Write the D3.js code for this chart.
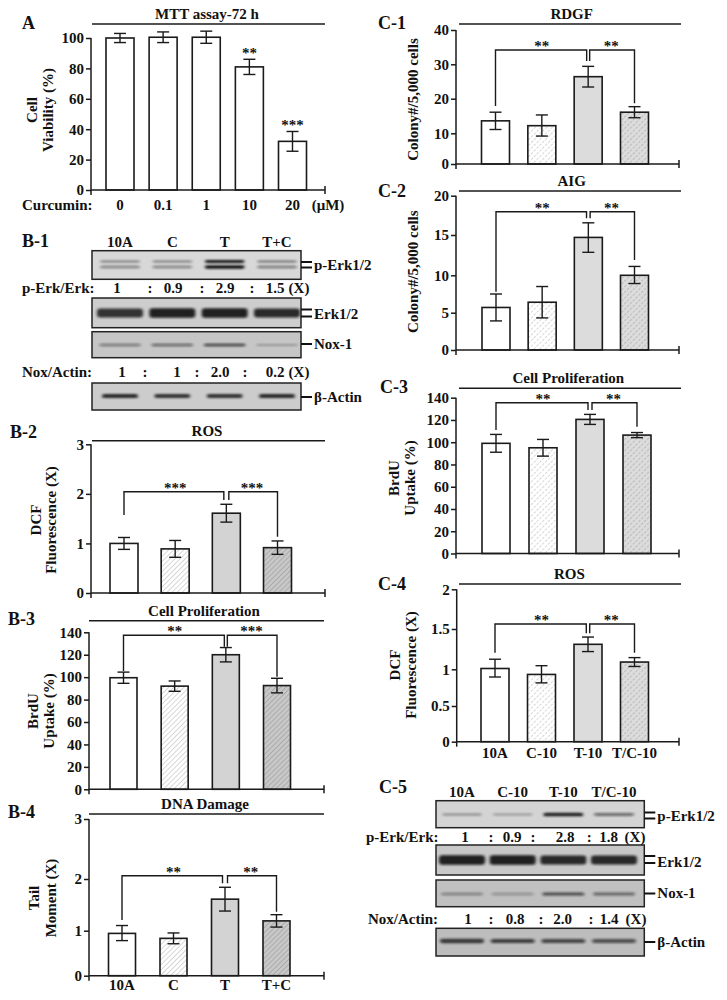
<!DOCTYPE html>
<html><head><meta charset="utf-8">
<script src="https://cdn.jsdelivr.net/npm/d3@7"></script>
<style>
body{margin:0;background:#fff}
svg text{font-family:"Liberation Serif","Times New Roman",serif;font-weight:bold;font-size:15px;fill:#111}
svg text.plabel{font-size:18px}
</style>
</head><body><svg id="fig" width="727" height="1000"></svg>
<script>
// ---------------- data ----------------
const curcuminDoses = ["0", "0.1", "1", "10", "20"];
const mttViability = [100, 100.5, 100.5, 81, 32];
const mttError = [3, 3.5, 4, 5, 6.5];
const mttStars = ["", "", "", "**", "***"];
const mttTicks = [0, 20, 40, 60, 80, 100];

const groupsB = ["10A", "C", "T", "T+C"];
const rosB = [1.0, 0.89, 1.61, 0.915];
const rosBErr = [0.12, 0.17, 0.18, 0.135];
const rosBStars = ["***", "***"];
const brduB = [99.5, 92, 120, 92.5];
const brduBErr = [5, 4.6, 6.4, 6.5];
const brduBStars = ["**", "***"];
const tailB = [0.94, 0.83, 1.61, 1.19];
const tailBErr = [0.16, 0.12, 0.23, 0.12];
const tailBStars = ["**", "**"];

const groupsC = ["10A", "C-10", "T-10", "T/C-10"];
const rdgfC = [13.6, 12.2, 26.4, 16.1];
const rdgfCErr = [2.5, 3.1, 3.0, 1.6];
const aigC = [5.7, 6.4, 14.7, 10.0];
const aigCErr = [1.8, 2.1, 1.85, 1.1];
const brduC = [99, 95, 120.5, 106.4];
const brduCErr = [8, 7.5, 4.5, 2.3];
const rosC = [1.01, 0.93, 1.31, 1.09];
const rosCErr = [0.115, 0.115, 0.09, 0.055];
const starsC = ["**", "**"];

const ticks3 = [0, 1, 2, 3];
const ticks140 = [0, 20, 40, 60, 80, 100, 120, 140];
const ticksRDGF = [0, 10, 20, 30, 40];
const ticksAIG = [0, 5, 10, 15, 20];
const ticksROSC = [0, 0.5, 1, 1.5, 2];

const pErkRatioB = ["1", "0.9", "2.9", "1.5"];
const noxRatioB = ["1", "1", "2.0", "0.2"];
const pErkRatioC = ["1", "0.9", "2.8", "1.8"];
const noxRatioC = ["1", "0.8", "2.0", "1.4"];

// band darkness estimates
const pErkBandB = [0.45, 0.45, 1.0, 0.5];
const erkBandB = [0.85, 0.95, 0.95, 0.9];
const noxBandB = [0.45, 0.55, 0.75, 0.25];
const actinBandB = [0.9, 0.85, 0.85, 0.9];
const pErkBandC = [0.3, 0.25, 0.95, 0.55];
const erkBandC = [0.95, 0.95, 0.9, 0.9];
const noxBandC = [0.4, 0.3, 0.7, 0.55];
const actinBandC = [0.8, 0.75, 0.7, 0.65];

// ---------------- setup ----------------
const svg = d3.select('#fig');
const defs = svg.append('defs');
function hatch(id, bg, color, dash, sw, sp) {
  const p = defs.append('pattern').attr('id', id).attr('patternUnits', 'userSpaceOnUse')
    .attr('width', sp).attr('height', sp).attr('patternTransform', 'rotate(45)');
  p.append('rect').attr('width', sp).attr('height', sp).attr('fill', bg);
  p.append('line').attr('x1', 0).attr('y1', 0).attr('x2', 0).attr('y2', sp)
    .attr('stroke', color).attr('stroke-width', sw).attr('stroke-dasharray', dash);
}
hatch('hB1', '#ffffff', '#a8a8a8', null, 0.9, 3.6);
hatch('hB2', '#c8c8c8', '#8a8a8a', null, 0.9, 3.6);
hatch('hC1', '#ffffff', '#a0a0a0', '1.5,1.5', 0.9, 4);
hatch('hC2', '#dcdcdc', '#8f8f8f', '1.5,1.5', 0.9, 4);
const blur = defs.append('filter').attr('id', 'blur').attr('x', '-20%').attr('y', '-200%').attr('width', '140%').attr('height', '500%');
blur.append('feGaussianBlur').attr('stdDeviation', '1.6 1.2');

const fillsB = ['#ffffff', 'url(#hB1)', '#d3d3d3', 'url(#hB2)'];
const fillsC = ['#ffffff', 'url(#hC1)', '#dcdcdc', 'url(#hC2)'];
const INK = '#1a1a1a';

function barPanel(c) {
  const g = svg.append('g');
  const y = d3.scaleLinear().domain(c.yDomain).range(c.yRange);
  const x = d3.scalePoint().domain(c.cats).range(c.xRange);
  const y0 = y(0);
  // title + line
  g.append('line').attr('x1', c.line[0]).attr('x2', c.line[1]).attr('y1', c.lineY).attr('y2', c.lineY)
    .attr('stroke', INK).attr('stroke-width', 1.5);
  g.append('text').attr('x', c.titleX).attr('y', c.lineY - 5).attr('text-anchor', 'middle').text(c.title);
  g.append('text').attr('class', 'plabel').attr('x', c.label[0]).attr('y', c.label[1]).text(c.label[2]);
  // y label
  c.ylab.forEach((t, i) => {
    g.append('text').attr('transform', `translate(${c.ylabX[i]},${c.ylabY}) rotate(-90)`)
      .attr('text-anchor', 'middle').attr('dominant-baseline', 'central').text(t);
  });
  const data = c.cats.map((k, i) => ({ k, v: c.values[i], e: c.errors[i], f: c.fills[i], s: c.stars ? c.stars[i] : '' }));
  // bars
  g.selectAll('rect.bar').data(data).join('rect').attr('class', 'bar')
    .attr('x', d => x(d.k) - c.barW / 2).attr('y', d => y(d.v))
    .attr('width', c.barW).attr('height', d => y0 - y(d.v))
    .attr('fill', d => d.f).attr('stroke', INK).attr('stroke-width', 1.6);
  // error bars
  const cap = 6;
  const eg = g.selectAll('g.err').data(data).join('g').attr('class', 'err')
    .attr('stroke', INK).attr('stroke-width', 1.4);
  eg.append('line').attr('x1', d => x(d.k)).attr('x2', d => x(d.k)).attr('y1', d => y(d.v + d.e)).attr('y2', d => y(d.v - d.e));
  eg.append('line').attr('x1', d => x(d.k) - cap).attr('x2', d => x(d.k) + cap).attr('y1', d => y(d.v + d.e)).attr('y2', d => y(d.v + d.e));
  eg.append('line').attr('x1', d => x(d.k) - cap).attr('x2', d => x(d.k) + cap).attr('y1', d => y(d.v - d.e)).attr('y2', d => y(d.v - d.e));
  // stars above bars
  g.selectAll('text.star').data(data.filter(d => d.s)).join('text').attr('class', 'star')
    .attr('x', d => x(d.k)).attr('y', d => y(d.v + d.e) - 1).attr('text-anchor', 'middle').text(d => d.s);
  // axes
  const ax = g.append('g').attr('transform', `translate(${c.axisX},0)`)
    .call(d3.axisLeft(y).tickValues(c.ticks).tickSize(5).tickPadding(2).tickSizeOuter(0).tickFormat(d => String(d)));
  ax.select('.domain').remove();
  ax.selectAll('line').attr('stroke', INK).attr('stroke-width', 1.5);
  const top = y(c.ticks[c.ticks.length - 1]);
  g.append('line').attr('x1', c.axisX).attr('x2', c.axisX).attr('y1', top).attr('y2', y0 + 5)
    .attr('stroke', INK).attr('stroke-width', 1.5);
  g.append('line').attr('x1', c.axisX).attr('x2', c.xEnd).attr('y1', y0).attr('y2', y0)
    .attr('stroke', INK).attr('stroke-width', 1.5);
  g.append('line').attr('x1', c.xEnd).attr('x2', c.xEnd).attr('y1', y0 - 4).attr('y2', y0 + 4)
    .attr('stroke', INK).attr('stroke-width', 1.5);
  // brackets
  if (c.bracket) {
    const b = c.bracket;
    const xl = x(c.cats[0]), xm = x(c.cats[2]), xr = x(c.cats[3]);
    g.append('path').attr('d', `M${xl},${b.legs[0]}V${b.y}H${xm - b.gap}V${b.legs[1]}`)
      .attr('fill', 'none').attr('stroke', INK).attr('stroke-width', 1.4);
    g.append('path').attr('d', `M${xm + b.gap},${b.legs[1]}V${b.y}H${xr}V${b.legs[2]}`)
      .attr('fill', 'none').attr('stroke', INK).attr('stroke-width', 1.4);
    g.append('text').attr('x', (xl + xm) / 2).attr('y', b.y + 1).attr('text-anchor', 'middle').text(c.bstars[0]);
    g.append('text').attr('x', (xm + xr) / 2).attr('y', b.y + 1).attr('text-anchor', 'middle').text(c.bstars[1]);
  }
  // x labels
  if (c.xlabY) {
    g.selectAll('text.xl').data(c.cats).join('text').attr('class', 'xl')
      .attr('x', d => x(d)).attr('y', c.xlabY).attr('text-anchor', 'middle').text(d => d);
  }
  return { g, x, y };
}

function blotPanel(c) {
  const g = svg.append('g');
  const x = d3.scalePoint().domain(c.cats).range(c.laneRange);
  g.append('text').attr('class', 'plabel').attr('x', c.label[0]).attr('y', c.label[1]).text(c.label[2]);
  g.selectAll('text.lane').data(c.cats).join('text').attr('class', 'lane')
    .attr('x', d => x(d)).attr('y', c.laneY).attr('text-anchor', 'middle').text(d => d);
  c.boxes.forEach(b => {
    g.append('rect').attr('x', c.x0).attr('y', b.y0).attr('width', c.x1 - c.x0).attr('height', b.y1 - b.y0)
      .attr('fill', b.bg);
    const bg = g.append('g').attr('filter', 'url(#blur)');
    b.bands.forEach(band => {
      bg.selectAll(null).data(c.cats.map((k, i) => ({ k, it: band.ints[i] }))).join('rect')
        .attr('x', d => x(d.k) - band.w / 2).attr('width', band.w)
        .attr('y', d => band.y - band.h * (0.6 + d.it * 0.6) / 2).attr('height', d => band.h * (0.6 + d.it * 0.6))
        .attr('rx', 3).attr('fill', '#151515').attr('opacity', d => d.it);
    });
    g.append('rect').attr('x', c.x0).attr('y', b.y0).attr('width', c.x1 - c.x0).attr('height', b.y1 - b.y0)
      .attr('fill', 'none').attr('stroke', '#222').attr('stroke-width', 1.5);
    b.marks.forEach(m => g.append('line').attr('x1', c.x1).attr('x2', c.x1 + 11).attr('y1', m).attr('y2', m)
      .attr('stroke', '#111').attr('stroke-width', 2));
    g.append('text').attr('x', c.x1 + 13).attr('y', b.labelY).text(b.label);
  });
  c.rows.forEach(r => {
    g.append('text').attr('x', r.lx).attr('y', r.y).text(r.label);
    g.selectAll(null).data(r.vals).join('text').attr('x', (d, i) => r.vx[i]).attr('y', r.y)
      .attr('text-anchor', 'middle').text(d => d);
    g.selectAll(null).data(r.cx).join('text').attr('x', d => d).attr('y', r.y)
      .attr('text-anchor', 'middle').text(':');
    g.append('text').attr('x', r.xX).attr('y', r.y).attr('text-anchor', 'middle').text('(X)');
  });
}

// ---------------- Panel A ----------------
const pA = barPanel({
  cats: curcuminDoses, values: mttViability, errors: mttError, stars: mttStars,
  fills: curcuminDoses.map(() => '#ffffff'), barW: 28, xRange: [120, 292.5],
  yDomain: [0, 100], yRange: [190, 38], ticks: mttTicks, axisX: 91, xEnd: 325,
  title: 'MTT assay-72 h', titleX: 207, lineY: 24, line: [92, 325], label: [22, 29, 'A'],
  ylab: ['Cell', 'Viability (%)'], ylabX: [31.5, 48], ylabY: 110, xlabY: 210
});
pA.g.append('text').attr('x', 22).attr('y', 210).text('Curcumin:');
pA.g.append('text').attr('x', 328).attr('y', 210).attr('text-anchor', 'middle').text('(μM)');

// ---------------- Panel B-1 blot ----------------
blotPanel({
  cats: groupsB, laneRange: [120, 277], laneY: 247, x0: 92, x1: 301, label: [22, 247, 'B-1'],
  boxes: [
    { y0: 250.7, y1: 279.3, bg: '#d8d8d8', bands: [{ y: 261.5, h: 2.4, w: 40, ints: pErkBandB }, { y: 267, h: 2.8, w: 40, ints: pErkBandB }], marks: [262, 267.5], label: 'p-Erk1/2', labelY: 270 },
    { y0: 298, y1: 327.7, bg: '#cdcdcd', bands: [{ y: 313, h: 8, w: 46, ints: erkBandB }], marks: [309.5, 316.5], label: 'Erk1/2', labelY: 319 },
    { y0: 331.7, y1: 357.7, bg: '#c6c6c6', bands: [{ y: 345, h: 2.6, w: 42, ints: noxBandB }], marks: [344], label: 'Nox-1', labelY: 349 },
    { y0: 383, y1: 410, bg: '#cccccc', bands: [{ y: 396, h: 3.6, w: 36, ints: actinBandB }], marks: [397], label: 'β-Actin', labelY: 402 }
  ],
  rows: [
    { label: 'p-Erk/Erk:', lx: 22, y: 293, vals: pErkRatioB, vx: [117, 173, 225, 275], cx: [150, 202, 252], xX: 299 },
    { label: 'Nox/Actin:', lx: 22, y: 376.7, vals: noxRatioB, vx: [122, 177, 220, 275], cx: [145, 197, 245], xX: 299 }
  ]
});

// ---------------- Panel B-2 ----------------
barPanel({
  cats: groupsB, values: rosB, errors: rosBErr, fills: fillsB, barW: 28, xRange: [124, 277.5],
  yDomain: [0, 3], yRange: [593, 444.3], ticks: ticks3, axisX: 91, xEnd: 325,
  title: 'ROS', titleX: 207, lineY: 440.7, line: [92, 325], label: [10, 438, 'B-2'],
  ylab: ['DCF', 'Fluorescence (X)'], ylabX: [36, 51], ylabY: 520,
  bracket: { y: 491.7, legs: [515, 500, 536.7], gap: 2.5 }, bstars: rosBStars
});

// ---------------- Panel B-3 ----------------
barPanel({
  cats: groupsB, values: brduB, errors: brduBErr, fills: fillsB, barW: 27, xRange: [123.5, 277],
  yDomain: [0, 140], yRange: [789.3, 632.3], ticks: ticks140, axisX: 89, xEnd: 324,
  title: 'Cell Proliferation', titleX: 204, lineY: 620.7, line: [89, 324], label: [8, 625, 'B-3'],
  ylab: ['BrdU', 'Uptake (%)'], ylabX: [33, 49], ylabY: 711,
  bracket: { y: 635.3, legs: [671, 646.7, 676.7], gap: 1.5 }, bstars: brduBStars
});

// ---------------- Panel B-4 ----------------
barPanel({
  cats: groupsB, values: tailB, errors: tailBErr, fills: fillsB, barW: 27, xRange: [122, 276.5],
  yDomain: ticks3, yRange: [975.7, 930.7, 879, 819], ticks: ticks3, axisX: 89, xEnd: 324,
  title: 'DNA Damage', titleX: 205, lineY: 814, line: [89, 324], label: [8, 818, 'B-4'],
  ylab: ['Tail', 'Moment (X)'], ylabX: [34, 51], ylabY: 898,
  bracket: { y: 875.7, legs: [920, 883.3, 911.7], gap: 2.5 }, bstars: tailBStars, xlabY: 990
});

// ---------------- Panel C-1 ----------------
barPanel({
  cats: groupsC, values: rdgfC, errors: rdgfCErr, fills: fillsC, barW: 28, xRange: [495.5, 634.5],
  yDomain: ticksRDGF, yRange: [164, 133.3, 98.7, 64.3, 30], ticks: ticksRDGF, axisX: 456, xEnd: 679,
  title: 'RDGF', titleX: 571.7, lineY: 24, line: [459, 681], label: [378, 29, 'C-1'],
  ylab: ['Colony#/5,000 cells'], ylabX: [413], ylabY: 99.5,
  bracket: { y: 50, legs: [106, 61, 103.3], gap: 1.5 }, bstars: starsC
});

// ---------------- Panel C-2 ----------------
barPanel({
  cats: groupsC, values: aigC, errors: aigCErr, fills: fillsC, barW: 28, xRange: [496, 634.5],
  yDomain: ticksAIG, yRange: [350, 312.7, 275.3, 235, 195.7], ticks: ticksAIG, axisX: 456, xEnd: 679,
  title: 'AIG', titleX: 571.7, lineY: 191, line: [459, 681], label: [378, 196.7, 'C-2'],
  ylab: ['Colony#/5,000 cells'], ylabX: [413], ylabY: 271.7,
  bracket: { y: 211.7, legs: [291.7, 218.3, 260], gap: 1.8 }, bstars: starsC
});

// ---------------- Panel C-3 ----------------
barPanel({
  cats: groupsC, values: brduC, errors: brduCErr, fills: fillsC, barW: 28, xRange: [496, 637],
  yDomain: [0, 140], yRange: [553.5, 397.7], ticks: ticks140, axisX: 456, xEnd: 679,
  title: 'Cell Proliferation', titleX: 568.3, lineY: 388.3, line: [459, 681], label: [380, 393.3, 'C-3'],
  ylab: ['BrdU', 'Uptake (%)'], ylabX: [394, 410], ylabY: 478,
  bracket: { y: 402.7, legs: [430, 410, 426.7], gap: 2 }, bstars: starsC
});

// ---------------- Panel C-4 ----------------
barPanel({
  cats: groupsC, values: rosC, errors: rosCErr, fills: fillsC, barW: 28, xRange: [495, 634.5],
  yDomain: ticksROSC, yRange: [741.7, 706, 669.3, 629, 589.3], ticks: ticksROSC, axisX: 456.7, xEnd: 679,
  title: 'ROS', titleX: 569.3, lineY: 584, line: [459, 681], label: [378, 590, 'C-4'],
  ylab: ['DCF', 'Fluorescence (X)'], ylabX: [395, 411], ylabY: 665,
  bracket: { y: 624, legs: [652.7, 633.3, 652.7], gap: 1.7 }, bstars: starsC, xlabY: 758
});

// ---------------- Panel C-5 blot ----------------
blotPanel({
  cats: groupsC, laneRange: [462, 614], laneY: 796.7, x0: 436, x1: 644.3, label: [379, 793.3, 'C-5'],
  boxes: [
    { y0: 800.7, y1: 827.7, bg: '#d4d4d4', bands: [{ y: 814.5, h: 3.2, w: 40, ints: pErkBandC }], marks: [812.5, 818.5], label: 'p-Erk1/2', labelY: 821 },
    { y0: 845, y1: 875, bg: '#c8c8c8', bands: [{ y: 860, h: 8, w: 46, ints: erkBandC }], marks: [856, 863], label: 'Erk1/2', labelY: 867 },
    { y0: 880, y1: 906.7, bg: '#c0c0c0', bands: [{ y: 894, h: 3, w: 42, ints: noxBandC }], marks: [893.5], label: 'Nox-1', labelY: 898 },
    { y0: 928.3, y1: 956, bg: '#bdbdbd', bands: [{ y: 941, h: 4, w: 44, ints: actinBandC }], marks: [942], label: 'β-Actin', labelY: 947 }
  ],
  rows: [
    { label: 'p-Erk/Erk:', lx: 366, y: 841.7, vals: pErkRatioC, vx: [465, 512, 565, 608.5], cx: [491, 533, 589.3], xX: 635 },
    { label: 'Nox/Actin:', lx: 368, y: 924, vals: noxRatioC, vx: [468, 515, 562.7, 609], cx: [491, 541, 591], xX: 636 }
  ]
});
</script>
</body></html>
